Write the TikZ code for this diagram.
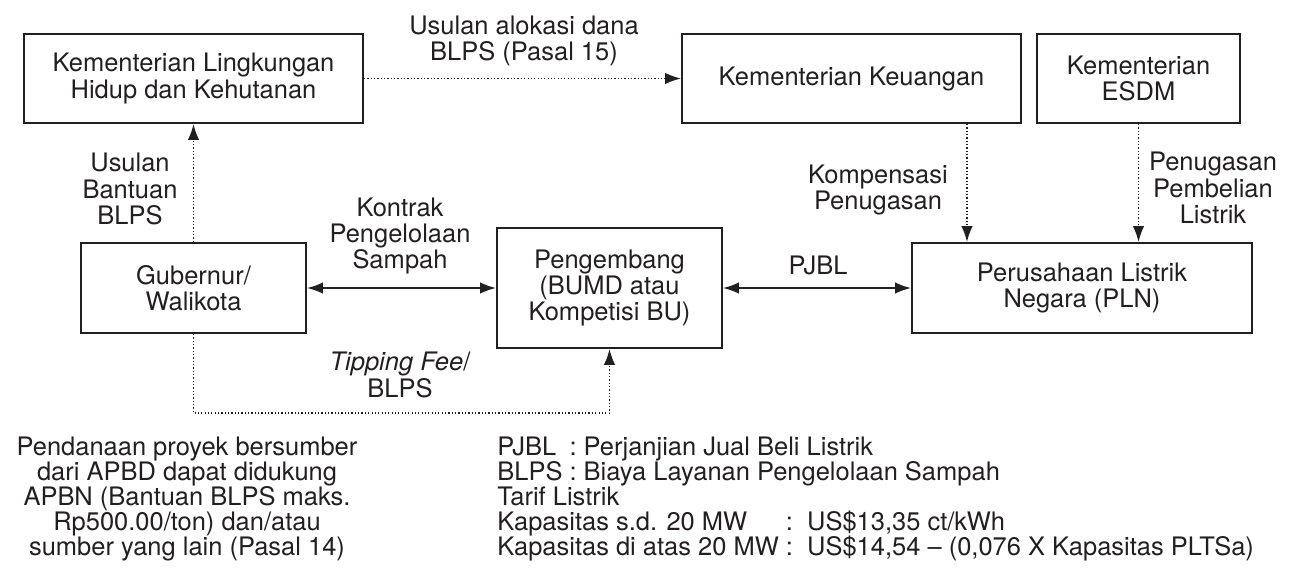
\documentclass[tikz,border=0pt]{standalone}
\usepackage{fontspec}
\usepackage{calc}
\setmainfont{TeX Gyre Heros}
\usetikzlibrary{arrows.meta,positioning}
\definecolor{ink}{HTML}{231F20}
\newcommand\diagfont{\fontsize{14.5}{15}\selectfont\lineskiplimit=-20pt\relax}
\newcommand\notefont{\fontsize{14.5}{14.3}\selectfont\lineskiplimit=-20pt\relax}
\tikzset{
  box/.style={shape=rectangle, draw=ink, line width=1.1pt, inner sep=0pt, align=center},
  txt/.style={align=center, inner sep=0pt},
  dotline/.style={ink, line width=1pt, dash pattern=on 0.7pt off 1.2pt},
  dotarrow/.style={dotline, -{Latex[length=3.2mm,width=2.3mm]}},
  twoway/.style={ink, line width=1.1pt, {Latex[length=3.2mm,width=2.3mm]}-{Latex[length=3.2mm,width=2.3mm]}},
}
\begin{document}
\begin{tikzpicture}[x=0.02cm, y=-0.02cm, font=\diagfont, text=ink]
	% Frame:
	\useasboundingbox (0,0) rectangle (1296,576);
	% Boxes:
	\node[box, minimum width=6.78cm, minimum height=1.78cm] (klhk) at (193.5, 78.5) {Kementerian Lingkungan\\Hidup dan Kehutanan};
	\node[box, minimum width=6.78cm, minimum height=1.78cm] (kk) at (851.5, 78.5) {Kementerian Keuangan};
	\node[box, minimum width=4.06cm, minimum height=1.78cm] (esdm) at (1138.5, 78.5) {Kementerian\\ESDM};
	\node[box, minimum width=4.5cm, minimum height=1.8cm] (gub) at (193.5, 288) {Gubernur/\\Walikota};
	\node[box, minimum width=4.5cm, minimum height=2.4cm] (peng) at (609.5, 288) {Pengembang\\(BUMD atau\\Kompetisi BU)};
	\node[box, minimum width=6.8cm, minimum height=1.8cm] (pln) at (1082, 288) {Perusahaan Listrik\\Negara (PLN)};
	% Labels:
	\node[txt] (lAlok) at (524, 41) {Usulan alokasi dana\\BLPS (Pasal 15)};
	\node[txt] (lBant) at (130, 189) {Usulan\\Bantuan\\BLPS};
	\node[txt] (lKontrak) at (400, 236) {Kontrak\\Pengelolaan\\Sampah};
	\node[txt] (lKomp) at (878, 190) {Kompensasi\\Penugasan};
	\node[txt] (lBeli) at (1213, 188) {Penugasan\\Pembelian\\Listrik};
	\node[txt] (lPjbl) at (818, 265) {PJBL};
	\node[txt] (lFee) at (400, 375) {\textit{Tipping Fee}/\\BLPS};
	\coordinate (fee) at (400, 413);
	% Connectors:
	\draw[dotarrow] (klhk.east) -- (kk.west);
	\draw[dotarrow] (gub.north) -- (klhk.south);
	\draw[dotarrow] ([xshift=2.31cm]kk.south) -- ([xshift=2.31cm]kk.south |- pln.north);
	\draw[dotarrow] (esdm.south) -- (esdm.south |- pln.north);
	\draw[twoway] (gub.east) -- (peng.west);
	\draw[twoway] (peng.east) -- (pln.west);
	\draw[dotarrow] (gub.south) |- (fee) -| (peng.south);
	% Notes:
	\node[txt, font=\notefont] (fund) at (187, 499) {Pendanaan proyek bersumber\\dari APBD dapat didukung\\APBN (Bantuan BLPS maks.\\Rp500.00/ton) dan/atau\\sumber yang lain (Pasal 14)};
	\node[txt, align=left, anchor=west, font=\notefont] (legend) at (497, 499) {\makebox[\widthof{BLPS}][l]{PJBL}\ :\ Perjanjian Jual Beli Listrik\\BLPS\ :\ Biaya Layanan Pengelolaan Sampah\\Tarif Listrik\\\makebox[\widthof{Kapasitas di atas 20 MW}][l]{Kapasitas s.d. 20 MW}\ :\ \ US\$13,35 ct/kWh\\Kapasitas di atas 20 MW\ :\ \ US\$14,54 -- (0,076 X Kapasitas PLTSa)};
\end{tikzpicture}
\end{document}
